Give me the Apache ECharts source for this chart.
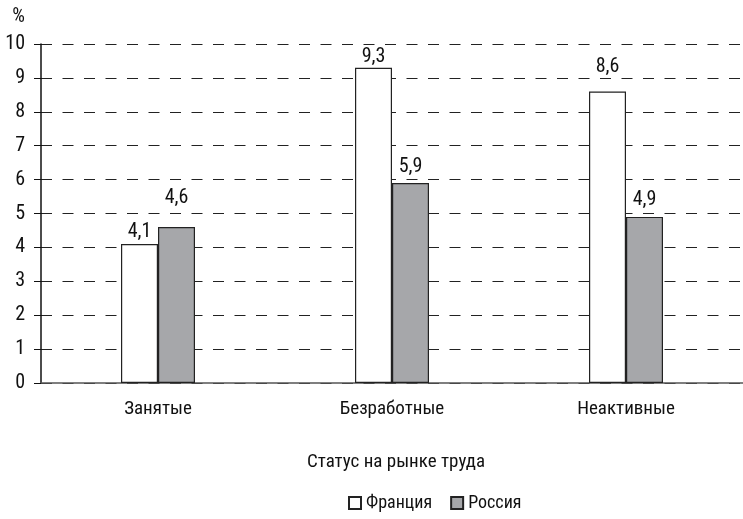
<!DOCTYPE html>
<html><head><meta charset="utf-8">
<script src="https://cdn.jsdelivr.net/npm/echarts@6/dist/echarts.min.js"></script>
<style>html,body{margin:0;padding:0;background:#fff}#c{width:743px;height:519px}</style>
</head><body><div id="c"></div>
<script>
var categories = ['Занятые', 'Безработные', 'Неактивные'];
var france = [4.1, 9.3, 8.6];
var russia = [4.6, 5.9, 4.9];
var yTicks = [0,1,2,3,4,5,6,7,8,9,10];
var seriesNames = ['Франция', 'Россия'];
var axisTitle = 'Статус на рынке труда';
var yUnit = '%';

// label gaps above bars (style only)
var franceLabelGap = [2, 1, 14];
var russiaLabelGap = [19, 6, 7];

var FONT = '"Roboto Condensed", "Liberation Sans", sans-serif';
var chart = echarts.init(document.getElementById('c'), null, {renderer:'canvas'});
function fmt(p){ return String(p.value).replace('.', ','); }
function items(vals, gaps){
  return vals.map(function(v,i){ return {value:v, label:{distance:gaps[i]}}; });
}
chart.setOption({
  animation:false,
  textStyle:{fontFamily:FONT, color:'#111'},
  grid:{left:41, top:44, width:709, height:339, containLabel:false},
  legend:{
    bottom:2, left:343, itemWidth:12, itemHeight:12, itemGap:18,
    icon:'rect',
    textStyle:{fontFamily:FONT, fontSize:18, color:'#111'},
    data: seriesNames
  },
  xAxis:{
    type:'category', data:categories,
    name: axisTitle, nameLocation:'middle', nameGap:70,
    nameTextStyle:{fontFamily:FONT, fontSize:19, color:'#111', padding:[0,0,0,8]},
    axisLine:{lineStyle:{color:'#555', width:1.5}},
    axisTick:{show:false},
    axisLabel:{fontFamily:FONT, fontSize:19, color:'#111', margin:17}
  },
  yAxis:{
    type:'value', min:0, max:10, interval:1,
    name: yUnit, nameLocation:'end', nameGap:17,
    nameTextStyle:{fontFamily:FONT, fontSize:20, color:'#111', align:'right', padding:[0,16,0,0]},
    axisLine:{show:true, lineStyle:{color:'#111', width:1.5}},
    axisTick:{show:true, length:7, lineStyle:{color:'#111'}},
    axisLabel:{fontFamily:FONT, fontSize:20, color:'#111', margin:16,
      formatter:function(v){ return yTicks.indexOf(v) >= 0 ? String(v) : ''; }},
    splitLine:{show:true, lineStyle:{color:'#222', type:[11,10.5], width:1}}
  },
  series:[
    {name:seriesNames[0], type:'bar', data:items(france, franceLabelGap), barWidth:37, barGap:'0%',
     itemStyle:{color:'#ffffff', borderColor:'#222', borderWidth:1.2},
     label:{show:true, position:'top', fontFamily:FONT, fontSize:20, color:'#111', formatter:fmt}},
    {name:seriesNames[1], type:'bar', data:items(russia, russiaLabelGap), barWidth:37,
     itemStyle:{color:'#a6a7aa', borderColor:'#222', borderWidth:1.2},
     label:{show:true, position:'top', fontFamily:FONT, fontSize:20, color:'#111', formatter:fmt}}
  ]
});
</script></body></html>
